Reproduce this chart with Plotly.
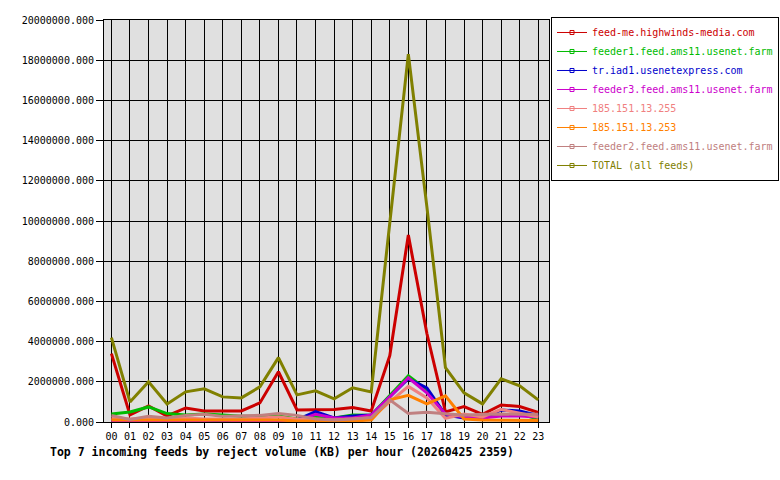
import plotly.graph_objects as go

hours = [f"{h:02d}" for h in range(24)]

feed_me = [3.4, 0.35, 0.8, 0.3, 0.7, 0.55, 0.55, 0.55, 0.95, 2.5, 0.6, 0.6,
           0.62, 0.72, 0.55, 3.3, 9.3, 4.4, 0.5, 0.77, 0.38, 0.85, 0.77, 0.48]
feeder1 = [0.4, 0.5, 0.75, 0.42, 0.35, 0.4, 0.35, 0.28, 0.28, 0.3, 0.15, 0.25,
           0.2, 0.35, 0.33, 1.3, 2.3, 1.6, 0.35, 0.33, 0.28, 0.35, 0.4, 0.15]
tr_iad1 = [0.02, 0.02, 0.02, 0.02, 0.02, 0.02, 0.02, 0.02, 0.05, 0.02, 0.1, 0.52,
           0.2, 0.3, 0.35, 1.25, 2.15, 1.7, 0.35, 0.2, 0.15, 0.6, 0.55, 0.33]
feeder3 = [0.08, 0.05, 0.05, 0.05, 0.05, 0.08, 0.1, 0.05, 0.05, 0.05, 0.05, 0.38,
           0.2, 0.2, 0.35, 1.25, 2.2, 1.45, 0.4, 0.25, 0.2, 0.3, 0.3, 0.25]
ip_255 = [0.2, 0.15, 0.2, 0.15, 0.2, 0.15, 0.15, 0.15, 0.2, 0.25, 0.15, 0.15,
          0.1, 0.15, 0.2, 1.0, 1.77, 1.2, 0.18, 0.4, 0.25, 0.63, 0.45, 0.25]
ip_253 = [0.1, 0.1, 0.12, 0.1, 0.1, 0.1, 0.1, 0.1, 0.1, 0.1, 0.05, 0.05,
          0.05, 0.05, 0.1, 1.1, 1.33, 0.9, 1.3, 0.15, 0.1, 0.1, 0.1, 0.08]
feeder2 = [0.33, 0.13, 0.28, 0.2, 0.33, 0.38, 0.28, 0.3, 0.33, 0.42, 0.33, 0.15,
           0.1, 0.15, 0.22, 1.1, 0.42, 0.48, 0.42, 0.33, 0.38, 0.4, 0.38, 0.38]
total = [4.2, 1.0, 2.0, 0.9, 1.5, 1.65, 1.25, 1.2, 1.75, 3.2, 1.35, 1.55,
         1.15, 1.7, 1.5, 9.9, 18.3, 10.7, 2.7, 1.45, 0.9, 2.15, 1.8, 1.1]

series = [
    ("feed-me.highwinds-media.com", feed_me, "#cc0000"),
    ("feeder1.feed.ams11.usenet.farm", feeder1, "#00bb00"),
    ("tr.iad1.usenetexpress.com", tr_iad1, "#0000cc"),
    ("feeder3.feed.ams11.usenet.farm", feeder3, "#cc00cc"),
    ("185.151.13.255", ip_255, "#f08080"),
    ("185.151.13.253", ip_253, "#ff8000"),
    ("feeder2.feed.ams11.usenet.farm", feeder2, "#c08080"),
    ("TOTAL (all feeds)", total, "#808000"),
]

MONO = "DejaVu Sans Mono"
fig = go.Figure()
for name, vals, col in series:
    fig.add_trace(go.Scatter(
        x=hours, y=[v * 1e6 for v in vals], mode="lines",
        line=dict(color=col, width=3), showlegend=False, hoverinfo="skip"))
for name, vals, col in series:
    fig.add_trace(go.Scatter(
        x=[None], y=[None], mode="lines+markers",
        name=f"<span style='color:{col}'>{name}</span>",
        line=dict(color=col, width=1),
        marker=dict(symbol="square-open", size=4, color=col)))

fig.update_layout(
    width=780, height=480,
    margin=dict(l=104, r=231, t=20, b=58, autoexpand=False),
    paper_bgcolor="white", plot_bgcolor="#e0e0e0",
    font=dict(family=MONO, size=10, color="black"),
    showlegend=True,
    legend=dict(x=1.0045, y=1.0075, xanchor="left", yanchor="top",
                bgcolor="white", bordercolor="black", borderwidth=1,
                font=dict(family=MONO, size=10), itemwidth=30,
                tracegroupgap=0),
    xaxis=dict(type="category", range=[-0.4, 23.58],
               showgrid=True, gridcolor="black", gridwidth=1,
               showline=True, linecolor="black", linewidth=1, mirror=True,
               ticks="outside", ticklen=5, tickcolor="black",
               tickfont=dict(family=MONO, size=10), zeroline=False),
    yaxis=dict(range=[0, 20e6], dtick=2e6, tickformat=".3f",
               showgrid=True, gridcolor="black", gridwidth=1,
               showline=True, linecolor="black", linewidth=1, mirror=True,
               ticks="outside", ticklen=7, tickcolor="black",
               tickfont=dict(family=MONO, size=10), zeroline=False),
    annotations=[dict(
        text="<b>Top 7 incoming feeds by reject volume (KB) per hour (20260425 2359)</b>",
        xref="paper", yref="paper", x=0.401, y=-0.0746,
        xanchor="center", yanchor="middle", showarrow=False,
        font=dict(family=MONO, size=11.5, color="black"))],
)

fig.write_html("out.html")
